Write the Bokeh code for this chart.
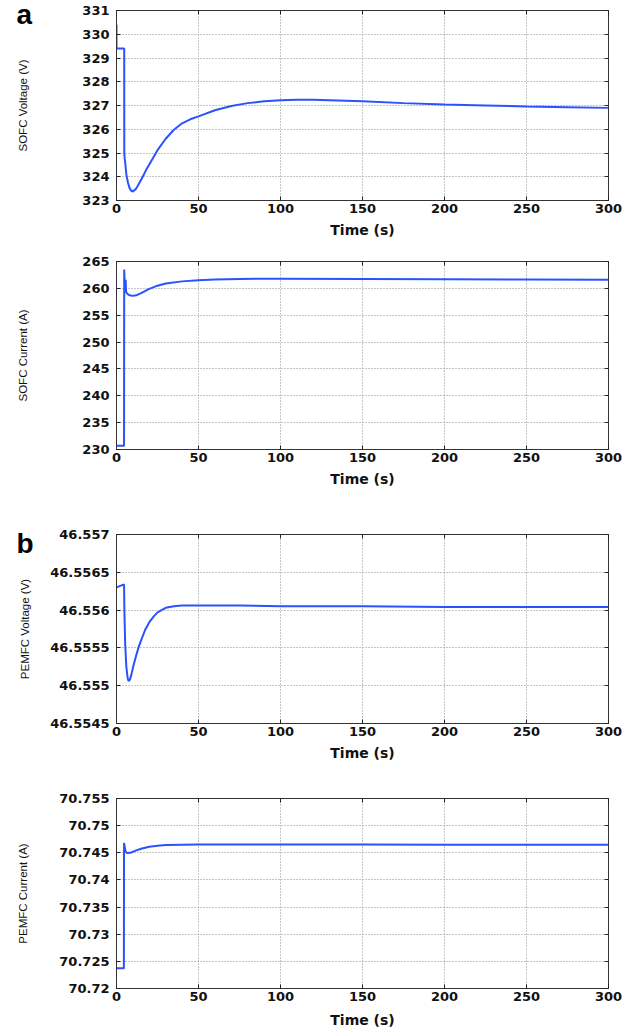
from bokeh.plotting import figure
from bokeh.layouts import column
from bokeh.models import Range1d, FixedTicker, CustomJSTickFormatter, LinearAxis
from bokeh.embed import file_html
from bokeh.resources import INLINE

# ---------------- data ----------------
x_ticks = [0, 50, 100, 150, 200, 250, 300]
x_tick_labels = ["0", "50", "100", "150", "200", "250", "300"]

# (a) SOFC voltage
t_sofc_v = [0, 0, 4.7, 4.75, 5.0, 5.3, 6.0, 7.0, 8.0, 9.0, 10.0, 12.0, 14.0, 16.0, 18.0, 20.0,
            25.0, 30.0, 35.0, 40.0, 45.0, 50.0, 60.0, 70.0, 80.0, 90.0, 100.0, 110.0, 120.0,
            130.0, 150.0, 175.0, 200.0, 225.0, 250.0, 275.0, 300.0]
sofc_voltage = [330.4, 329.4, 329.4, 325.0, 324.75, 324.6, 324.1, 323.75, 323.52, 323.41, 323.38,
                323.5, 323.75, 324.0, 324.28, 324.52, 325.12, 325.6, 325.98, 326.25, 326.42,
                326.54, 326.8, 326.98, 327.1, 327.18, 327.22, 327.24, 327.24, 327.22, 327.18,
                327.1, 327.04, 327.0, 326.96, 326.93, 326.9]
sofc_v_ticks = [323, 324, 325, 326, 327, 328, 329, 330, 331]
sofc_v_labels = ["323", "324", "325", "326", "327", "328", "329", "330", "331"]

# (a) SOFC current
t_sofc_i = [0, 4.6, 4.7, 5.0, 5.3, 5.6, 5.8, 6.0, 7.0, 8.0, 10.0, 12.0, 15.0, 20.0, 25.0, 30.0,
            40.0, 50.0, 60.0, 75.0, 100.0, 150.0, 200.0, 250.0, 300.0]
sofc_current = [230.7, 230.7, 263.5, 261.0, 259.5, 261.6, 259.6, 259.2, 258.9, 258.7, 258.6,
                258.7, 259.1, 259.9, 260.5, 260.9, 261.3, 261.5, 261.65, 261.75, 261.8, 261.75,
                261.7, 261.65, 261.6]
sofc_i_ticks = [230, 235, 240, 245, 250, 255, 260, 265]
sofc_i_labels = ["230", "235", "240", "245", "250", "255", "260", "265"]

# (b) PEMFC voltage
t_pem_v = [0, 4.6, 4.8, 5.3, 6.0, 6.8, 7.4, 8.2, 9.0, 10.4, 12.0, 13.5, 15.0, 17.5, 20.0, 22.5,
           25.0, 30.0, 35.0, 40.0, 50.0, 75.0, 100.0, 150.0, 200.0, 250.0, 300.0]
pem_voltage = [46.55630, 46.55634, 46.55600, 46.55555, 46.55525, 46.55510, 46.55506, 46.55508,
               46.55514, 46.55527, 46.55540, 46.55551, 46.55560, 46.55574, 46.55584, 46.55591,
               46.55597, 46.55603, 46.55605, 46.55606, 46.55606, 46.55606, 46.55605, 46.55605,
               46.55604, 46.55604, 46.55604]
pem_v_ticks = [46.5545, 46.555, 46.5555, 46.556, 46.5565, 46.557]
pem_v_labels = ["46.5545", "46.555", "46.5555", "46.556", "46.5565", "46.557"]

# (b) PEMFC current
t_pem_i = [0, 4.5, 4.6, 5.0, 5.5, 6.2, 7.0, 9.0, 12.0, 15.0, 20.0, 25.0, 30.0, 40.0, 50.0,
           100.0, 150.0, 200.0, 250.0, 300.0]
pem_current = [70.72375, 70.72375, 70.74680, 70.74610, 70.74530, 70.74500, 70.74495, 70.74505,
               70.74545, 70.74575, 70.74610, 70.74630, 70.74645, 70.74650, 70.74652, 70.74652,
               70.74652, 70.74650, 70.74650, 70.74650]
pem_i_ticks = [70.72, 70.725, 70.73, 70.735, 70.74, 70.745, 70.75, 70.755]
pem_i_labels = ["70.72", "70.725", "70.73", "70.735", "70.74", "70.745", "70.75", "70.755"]

# ---------------- styling ----------------
LINE = "#2a52ff"
TICK_FONT = "DejaVu Sans"
LABEL_FONT = "Liberation Sans"

FMT_CODE = """
let best = 0;
for (let i = 0; i < vals.length; i++) {
  if (Math.abs(vals[i] - tick) < Math.abs(vals[best] - tick)) best = i;
}
return labs[best];
"""


def fmt(vals, labs):
    return CustomJSTickFormatter(args=dict(vals=vals, labs=labs), code=FMT_CODE)


def blank_axis(ticks):
    ax = LinearAxis(ticker=FixedTicker(ticks=ticks),
                    formatter=CustomJSTickFormatter(code="return '';"))
    ax.major_label_text_font_size = "0px"
    ax.major_label_standoff = 0
    ax.major_tick_in = 4
    ax.major_tick_out = 0
    ax.minor_tick_line_color = None
    ax.axis_line_color = None
    ax.major_tick_line_color = "#222222"
    return ax


def make_panel(t, y, y_rng, y_ticks, y_labels, ylabel, height, top, bottom, right,
               ylab_standoff, xlab_standoff):
    p = figure(width=633, height=height, output_backend="svg", toolbar_location=None,
               x_range=Range1d(0, 300), y_range=Range1d(*y_rng),
               min_border_left=116, min_border_right=right,
               min_border_top=top, min_border_bottom=bottom)
    p.background_fill_color = "white"
    p.border_fill_color = "white"
    p.outline_line_color = "#333333"
    p.outline_line_width = 1

    p.line(t, y, line_color=LINE, line_width=2)

    xa = p.xaxis[0]
    xa.ticker = FixedTicker(ticks=x_ticks)
    xa.formatter = fmt(x_ticks, x_tick_labels)
    ya = p.yaxis[0]
    ya.ticker = FixedTicker(ticks=y_ticks)
    ya.formatter = fmt(y_ticks, y_labels)
    for ax in (xa, ya):
        ax.major_tick_in = 4
        ax.major_tick_out = 0
        ax.minor_tick_line_color = None
        ax.axis_line_color = "#333333"
        ax.major_tick_line_color = "#222222"
        ax.major_label_text_font = TICK_FONT
        ax.major_label_text_font_size = "13px"
        ax.major_label_text_font_style = "bold"
        ax.major_label_text_color = "#111111"
    xa.major_label_standoff = 3
    ya.major_label_standoff = 7

    xa.axis_label = "Time (s)"
    xa.axis_label_text_font = TICK_FONT
    xa.axis_label_text_font_size = "14px"
    xa.axis_label_text_font_style = "bold"
    xa.axis_label_text_color = "#111111"
    xa.axis_label_standoff = xlab_standoff

    ya.axis_label = ylabel
    ya.axis_label_text_font = LABEL_FONT
    ya.axis_label_text_font_size = "11.5px"
    ya.axis_label_text_font_style = "normal"
    ya.axis_label_text_color = "#111111"
    ya.axis_label_standoff = ylab_standoff

    p.add_layout(blank_axis(y_ticks), "right")
    p.add_layout(blank_axis(x_ticks), "above")

    for g in (p.xgrid[0], p.ygrid[0]):
        g.grid_line_color = "#8a8a8a"
        g.grid_line_dash = "1 2"
        g.grid_line_width = 1
    p.xgrid[0].ticker = FixedTicker(ticks=x_ticks)
    p.ygrid[0].ticker = FixedTicker(ticks=y_ticks)
    return p


def panel_letter(p, letter, standoff):
    p.title.text = letter
    p.title.align = "left"
    p.title.offset = -100
    p.title.standoff = standoff
    p.title.text_font = LABEL_FONT
    p.title.text_font_size = "28px"
    p.title.text_font_style = "bold"
    p.title.text_color = "black"


p1 = make_panel(t_sofc_v, sofc_voltage, (323, 331), sofc_v_ticks, sofc_v_labels,
                "SOFC Voltage (V)", 250, 10, 50, 19, 50, 6)
p2 = make_panel(t_sofc_i, sofc_current, (230, 265), sofc_i_ticks, sofc_i_labels,
                "SOFC Current (A)", 250, 11, 51, 19, 50, 6)
p3 = make_panel(t_pem_v, pem_voltage, (46.5545, 46.557), pem_v_ticks, pem_v_labels,
                "PEMFC Voltage (V)", 270, 34, 47, 25, 16, 6)
p4 = make_panel(t_pem_i, pem_current, (70.72, 70.755), pem_i_ticks, pem_i_labels,
                "PEMFC Current (A)", 260, 28, 42, 25, 27, 8)

panel_letter(p1, "a", -38)
panel_letter(p3, "b", -48)

layout = column(p1, p2, p3, p4, spacing=0)
open("out.html", "w").write(file_html(layout, INLINE))
